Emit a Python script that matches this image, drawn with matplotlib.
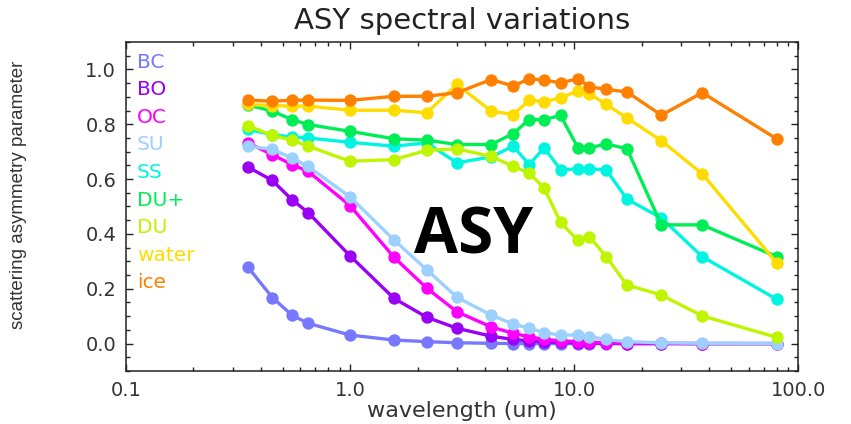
import numpy as np
import matplotlib.pyplot as plt
from matplotlib.ticker import LogLocator, MultipleLocator, NullFormatter

# wavelengths (um)
wavelength = [0.35, 0.45, 0.55, 0.65, 1.0, 1.57, 2.2, 3.0, 4.26, 5.35,
              6.3, 7.35, 8.7, 10.4, 11.7, 13.9, 17.2, 24.5, 37.3, 80.0]

asy_bc = [0.279, 0.168, 0.104, 0.074, 0.031, 0.013, 0.007, 0.003, 0.001, 0.0,
          0.0, 0.0, 0.0, 0.0, 0.0, 0.0, 0.0, 0.0, 0.0, 0.0]
asy_bo = [0.644, 0.595, 0.525, 0.478, 0.320, 0.165, 0.096, 0.056, 0.027, 0.015,
          0.010, 0.006, 0.004, 0.003, 0.002, 0.001, 0.0, 0.0, 0.0, 0.0]
asy_oc = [0.732, 0.689, 0.653, 0.628, 0.503, 0.315, 0.202, 0.116, 0.061, 0.037,
          0.025, 0.015, 0.010, 0.007, 0.005, 0.003, 0.002, 0.001, 0.0, 0.0]
asy_su = [0.720, 0.708, 0.677, 0.646, 0.535, 0.378, 0.269, 0.169, 0.104, 0.071,
          0.056, 0.040, 0.031, 0.031, 0.025, 0.015, 0.007, 0.003, 0.001, 0.0]
asy_ss = [0.781, 0.762, 0.754, 0.750, 0.734, 0.720, 0.732, 0.659, 0.681, 0.720,
          0.653, 0.714, 0.634, 0.637, 0.637, 0.634, 0.527, 0.458, 0.317, 0.162]
asy_duplus = [0.870, 0.848, 0.817, 0.799, 0.774, 0.747, 0.742, 0.726, 0.726, 0.766,
              0.817, 0.817, 0.832, 0.714, 0.714, 0.728, 0.711, 0.433, 0.433, 0.317]
asy_du = [0.795, 0.759, 0.742, 0.720, 0.665, 0.671, 0.705, 0.710, 0.683, 0.646,
          0.622, 0.567, 0.442, 0.376, 0.390, 0.317, 0.214, 0.177, 0.101, 0.023]
asy_water = [0.872, 0.868, 0.866, 0.866, 0.851, 0.851, 0.842, 0.945, 0.848, 0.835,
             0.888, 0.882, 0.897, 0.921, 0.912, 0.872, 0.823, 0.740, 0.619, 0.295]
asy_ice = [0.888, 0.884, 0.888, 0.888, 0.887, 0.902, 0.902, 0.915, 0.963, 0.939,
           0.966, 0.961, 0.951, 0.966, 0.937, 0.927, 0.918, 0.833, 0.915, 0.747]

species = ['BC', 'BO', 'OC', 'SU', 'SS', 'DU+', 'DU', 'water', 'ice']
series = [asy_bc, asy_bo, asy_oc, asy_su, asy_ss, asy_duplus, asy_du, asy_water, asy_ice]
colors = ['#7878ff', '#9a00f5', '#ff00ff', '#9cd0ff', '#00f5e0',
          '#00ee55', '#bff500', '#ffdc00', '#ff7f00']

xtick_vals = [0.1, 1.0, 10.0, 100.0]
xtick_labels = ['0.1', '1.0', '10.0', '100.0']
ytick_vals = [0.0, 0.2, 0.4, 0.6, 0.8, 1.0]
ytick_labels = ['0.0', '0.2', '0.4', '0.6', '0.8', '1.0']

plt.rcParams['font.family'] = ['DejaVu Sans']

fig = plt.figure(figsize=(8.51, 4.24), dpi=100)
ax = fig.add_axes([0.148, 0.125, 0.79, 0.776])

for vals, col in zip(series, colors):
    ax.plot(wavelength, vals, color=col, lw=2.4, marker='o', ms=7.9,
            mec=col, mfc=col, solid_capstyle='round')

ax.set_xscale('log')
ax.set_xlim(0.1, 100)
ax.set_ylim(-0.1, 1.1)
ax.set_xticks(xtick_vals)
ax.set_xticklabels(xtick_labels)
ax.xaxis.set_minor_locator(LogLocator(base=10, subs=np.arange(2, 10)))
ax.xaxis.set_minor_formatter(NullFormatter())
ax.set_yticks(ytick_vals)
ax.set_yticklabels(ytick_labels)
ax.yaxis.set_minor_locator(MultipleLocator(0.05))

ax.tick_params(which='both', direction='in', top=True, right=True,
               colors='#222222', labelcolor='#333333', labelsize=14)
ax.tick_params(which='major', length=5, width=1.0)
ax.tick_params(which='minor', length=3, width=1.0)
ax.tick_params(axis='x', pad=7)
ax.tick_params(axis='y', pad=7)
for sp in ax.spines.values():
    sp.set_linewidth(1.1)
    sp.set_color('#222222')

ax.set_title('ASY spectral variations', fontsize=21, color='#222222', pad=9)
ax.set_xlabel('wavelength (um)', fontsize=16, color='#333333', labelpad=1)
ax.set_ylabel('scattering asymmetry parameter', fontsize=13.5, color='#333333',
              family='Liberation Sans')
ax.yaxis.set_label_coords(-0.147, 0.535)

# species names in the upper left, in the line colours
for i, (name, col) in enumerate(zip(species, colors)):
    ax.text(0.016, 0.939 - i * 0.0839, name, color=col, fontsize=14.5,
            ha='left', va='center', transform=ax.transAxes)

fig.text(0.557, 0.44, 'ASY', fontsize=46, fontweight='bold',
         family='Open Sans', color='black', ha='center', va='center')

fig.savefig('out.png', dpi=100)
